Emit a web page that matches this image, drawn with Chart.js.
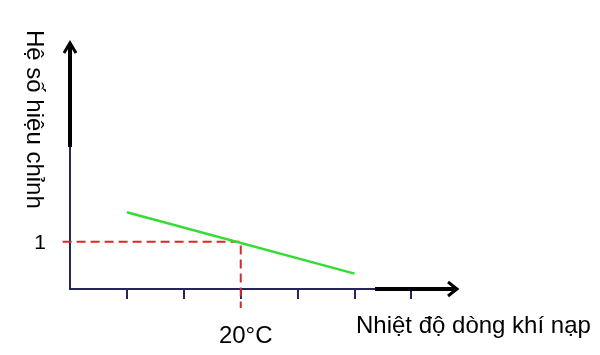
<!DOCTYPE html>
<html>
<head>
<meta charset="utf-8">
<script src="https://cdn.jsdelivr.net/npm/chart.js@4.4.0/dist/chart.umd.min.js"></script>
<style>
html,body{margin:0;padding:0;background:#fff;}
#wrap{width:600px;height:355px;position:relative;}
</style>
</head>
<body>
<div id="wrap"><canvas id="c" width="600" height="355"></canvas></div>
<script>
// ---- data ----
const xTitle = "Nhiệt độ dòng khí nạp";
const yTitle = "Hệ số hiệu chỉnh";
const xTicks = [0, 10, 20, 30, 40, 50];          // tick positions (°C)
const xTickLabels = {20: "20°C"};                 // only labelled tick
const yTickValue = 1;
const yTickLabel = "1";
const lineX = [0, 40];                            // correction-coefficient line
const lineY = [1.25, 0.73];
const refX = 20;                                  // reference temperature
const refY = 1;                                   // reference coefficient
const xRange = [-10, 58];
const yRange = [0.6, 2.69];

const navy = '#26265a';
const font = '"Liberation Sans", Arial, sans-serif';

const axesPlugin = {
  id: 'axes',
  beforeDatasetsDraw(chart) {
    const ctx = chart.ctx, a = chart.chartArea;
    const xs = chart.scales.x, ys = chart.scales.y;
    const ox = Math.round(xs.getPixelForValue(xRange[0])), oy = Math.round(ys.getPixelForValue(yRange[0]));
    ctx.save();
    ctx.lineCap = 'butt';
    // thin axis lines
    ctx.strokeStyle = navy; ctx.lineWidth = 2;
    ctx.beginPath();
    ctx.moveTo(ox, a.top + 100); ctx.lineTo(ox, oy + 1);
    ctx.stroke();
    ctx.beginPath();
    ctx.moveTo(ox - 1, oy); ctx.lineTo(a.right - 82, oy);
    ctx.stroke();
    // ticks
    xTicks.forEach(v => {
      const px = Math.round(xs.getPixelForValue(v));
      ctx.beginPath(); ctx.moveTo(px, oy); ctx.lineTo(px, oy + 10); ctx.stroke();
    });
    // thick black segments
    ctx.strokeStyle = '#000'; ctx.lineWidth = 4;
    ctx.beginPath(); ctx.moveTo(ox, a.top + 105); ctx.lineTo(ox, a.top + 2); ctx.stroke();
    ctx.beginPath(); ctx.moveTo(a.right - 82, oy); ctx.lineTo(a.right - 2, oy); ctx.stroke();
    // arrowheads
    ctx.lineWidth = 3; ctx.lineJoin = 'miter';
    ctx.beginPath();
    ctx.moveTo(ox - 6, a.top + 11); ctx.lineTo(ox, a.top + 1); ctx.lineTo(ox + 6, a.top + 11);
    ctx.stroke();
    ctx.beginPath();
    ctx.moveTo(a.right - 9, oy - 7); ctx.lineTo(a.right, oy); ctx.lineTo(a.right - 9, oy + 7);
    ctx.stroke();
    ctx.restore();
  },
  afterDraw(chart) {
    const ctx = chart.ctx;
    const xs = chart.scales.x, ys = chart.scales.y;
    ctx.save();
    ctx.fillStyle = '#000';
    ctx.font = '24px ' + font;
    ctx.textBaseline = 'alphabetic';
    // x tick labels
    ctx.textAlign = 'center';
    Object.keys(xTickLabels).forEach(k => {
      ctx.fillText(xTickLabels[k], xs.getPixelForValue(+k) + 5, 343);
    });
    // x title
    ctx.textAlign = 'left';
    ctx.fillText(xTitle, 356, 333);
    // y tick label
    ctx.font = '21px ' + font;
    ctx.textAlign = 'right';
    ctx.fillText(yTickLabel, 46, ys.getPixelForValue(yTickValue) + 7);
    // y title (reads top to bottom)
    ctx.font = '24px ' + font;
    ctx.translate(27, 30);
    ctx.rotate(Math.PI / 2);
    ctx.textAlign = 'left';
    ctx.textBaseline = 'alphabetic';
    ctx.fillText(yTitle, 0, 0);
    ctx.restore();
  }
};

new Chart(document.getElementById('c'), {
  type: 'line',
  data: {
    datasets: [
      {
        data: lineX.map((x, i) => ({x, y: lineY[i]})),
        borderColor: '#33dd33', borderWidth: 2.5, pointRadius: 0, order: 0
      },
      {
        data: [{x: xRange[0] - 1.3, y: refY}, {x: refX, y: refY}, {x: refX, y: 0.44}],
        borderColor: '#d62a2a', borderWidth: 2, borderDash: [9, 5],
        pointRadius: 0, clip: false, order: 1
      }
    ]
  },
  options: {
    responsive: false, animation: false,
    layout: {padding: {left: 70, right: 143, top: 42, bottom: 66}},
    plugins: {legend: {display: false}, tooltip: {enabled: false}},
    scales: {
      x: {type: 'linear', min: xRange[0], max: xRange[1], display: false},
      y: {type: 'linear', min: yRange[0], max: yRange[1], display: false}
    }
  },
  plugins: [axesPlugin]
});
</script>
</body>
</html>
